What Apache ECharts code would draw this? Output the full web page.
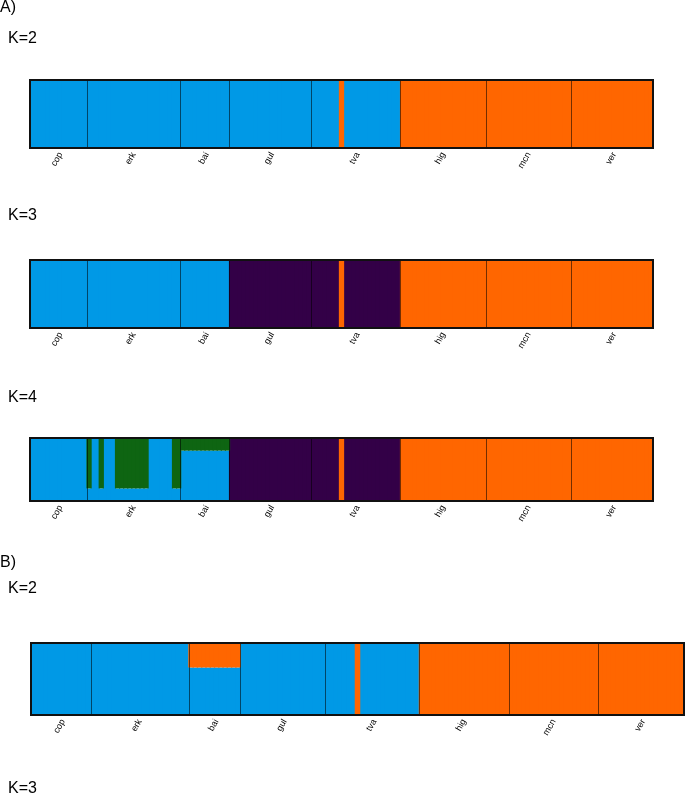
<!DOCTYPE html>
<html>
<head>
<meta charset="utf-8">
<script src="https://cdn.jsdelivr.net/npm/echarts@6/dist/echarts.min.js"></script>
<style>
html,body{margin:0;padding:0;background:#fff;}
#chart{width:685px;height:795px;}
</style>
</head>
<body>
<div id="chart"></div>
<script>
// ---- data ----
const populations = ['cop','erk','bai','gul','tva','hig','mcn','ver'];
const popSizes = [14,23,12,20,22,21,21,20];

// A) K=2
const A_K2_blue = [
  1,1,1,1,1,1,1,1,1,1, 1,1,1,1,                          // cop
  1,1,1,1,1,1,1,1,1,1, 1,1,1,1,1,1,1,1,1,1, 1,1,1,       // erk
  1,1,1,1,1,1,1,1,1,1, 1,1,                              // bai
  1,1,1,1,1,1,1,1,1,1, 1,1,1,1,1,1,1,1,1,1,              // gul
  1,1,1,1,1,1,1,0,1,1, 1,1,1,1,1,1,1,1,1,1, 1,1,         // tva
  0,0,0,0,0,0,0,0,0,0, 0,0,0,0,0,0,0,0,0,0, 0,           // hig
  0,0,0,0,0,0,0,0,0,0, 0,0,0,0,0,0,0,0,0,0, 0,           // mcn
  0,0,0,0,0,0,0,0,0,0, 0,0,0,0,0,0,0,0,0,0               // ver
];
const A_K2_orange = [
  0,0,0,0,0,0,0,0,0,0, 0,0,0,0,
  0,0,0,0,0,0,0,0,0,0, 0,0,0,0,0,0,0,0,0,0, 0,0,0,
  0,0,0,0,0,0,0,0,0,0, 0,0,
  0,0,0,0,0,0,0,0,0,0, 0,0,0,0,0,0,0,0,0,0,
  0,0,0,0,0,0,0,1,0,0, 0,0,0,0,0,0,0,0,0,0, 0,0,
  1,1,1,1,1,1,1,1,1,1, 1,1,1,1,1,1,1,1,1,1, 1,
  1,1,1,1,1,1,1,1,1,1, 1,1,1,1,1,1,1,1,1,1, 1,
  1,1,1,1,1,1,1,1,1,1, 1,1,1,1,1,1,1,1,1,1
];

// A) K=3
const A_K3_blue = [
  1,1,1,1,1,1,1,1,1,1, 1,1,1,1,
  1,1,1,1,1,1,1,1,1,1, 1,1,1,1,1,1,1,1,1,1, 1,1,1,
  1,1,1,1,1,1,1,1,1,1, 1,1,
  0,0,0,0,0,0,0,0,0,0, 0,0,0,0,0,0,0,0,0,0,
  0,0,0,0,0,0,0,0,0,0, 0,0,0,0,0,0,0,0,0,0, 0,0,
  0,0,0,0,0,0,0,0,0,0, 0,0,0,0,0,0,0,0,0,0, 0,
  0,0,0,0,0,0,0,0,0,0, 0,0,0,0,0,0,0,0,0,0, 0,
  0,0,0,0,0,0,0,0,0,0, 0,0,0,0,0,0,0,0,0,0
];
const A_K3_purple = [
  0,0,0,0,0,0,0,0,0,0, 0,0,0,0,
  0,0,0,0,0,0,0,0,0,0, 0,0,0,0,0,0,0,0,0,0, 0,0,0,
  0,0,0,0,0,0,0,0,0,0, 0,0,
  1,1,1,1,1,1,1,1,1,1, 1,1,1,1,1,1,1,1,1,1,
  1,1,1,1,1,1,1,0,1,1, 1,1,1,1,1,1,1,1,1,1, 1,1,
  0,0,0,0,0,0,0,0,0,0, 0,0,0,0,0,0,0,0,0,0, 0,
  0,0,0,0,0,0,0,0,0,0, 0,0,0,0,0,0,0,0,0,0, 0,
  0,0,0,0,0,0,0,0,0,0, 0,0,0,0,0,0,0,0,0,0
];
const A_K3_orange = A_K2_orange;

// A) K=4
const A_K4_blue = [
  1,1,1,1,1,1,1,1,1,1, 1,1,1,1,
  0.2,1,1,0.2,1,1,1,0.2,0.2,0.2, 0.2,0.2,0.2,0.2,0.2,1,1,1,1,1, 1,0.2,0.2,
  0.8,0.8,0.8,0.8,0.8,0.8,0.8,0.8,0.8,0.8, 0.8,0.8,
  0,0,0,0,0,0,0,0,0,0, 0,0,0,0,0,0,0,0,0,0,
  0,0,0,0,0,0,0,0,0,0, 0,0,0,0,0,0,0,0,0,0, 0,0,
  0,0,0,0,0,0,0,0,0,0, 0,0,0,0,0,0,0,0,0,0, 0,
  0,0,0,0,0,0,0,0,0,0, 0,0,0,0,0,0,0,0,0,0, 0,
  0,0,0,0,0,0,0,0,0,0, 0,0,0,0,0,0,0,0,0,0
];
const A_K4_green = [
  0,0,0,0,0,0,0,0,0,0, 0,0,0,0,
  0.8,0,0,0.8,0,0,0,0.8,0.8,0.8, 0.8,0.8,0.8,0.8,0.8,0,0,0,0,0, 0,0.8,0.8,
  0.2,0.2,0.2,0.2,0.2,0.2,0.2,0.2,0.2,0.2, 0.2,0.2,
  0,0,0,0,0,0,0,0,0,0, 0,0,0,0,0,0,0,0,0,0,
  0,0,0,0,0,0,0,0,0,0, 0,0,0,0,0,0,0,0,0,0, 0,0,
  0,0,0,0,0,0,0,0,0,0, 0,0,0,0,0,0,0,0,0,0, 0,
  0,0,0,0,0,0,0,0,0,0, 0,0,0,0,0,0,0,0,0,0, 0,
  0,0,0,0,0,0,0,0,0,0, 0,0,0,0,0,0,0,0,0,0
];
const A_K4_purple = A_K3_purple;
const A_K4_orange = A_K2_orange;

// B) K=2
const B_K2_blue = [
  1,1,1,1,1,1,1,1,1,1, 1,1,1,1,
  1,1,1,1,1,1,1,1,1,1, 1,1,1,1,1,1,1,1,1,1, 1,1,1,
  0.66,0.66,0.66,0.66,0.66,0.66,0.66,0.66,0.66,0.66, 0.66,0.66,
  1,1,1,1,1,1,1,1,1,1, 1,1,1,1,1,1,1,1,1,1,
  1,1,1,1,1,1,1,0,1,1, 1,1,1,1,1,1,1,1,1,1, 1,1,
  0,0,0,0,0,0,0,0,0,0, 0,0,0,0,0,0,0,0,0,0, 0,
  0,0,0,0,0,0,0,0,0,0, 0,0,0,0,0,0,0,0,0,0, 0,
  0,0,0,0,0,0,0,0,0,0, 0,0,0,0,0,0,0,0,0,0
];
const B_K2_orange = [
  0,0,0,0,0,0,0,0,0,0, 0,0,0,0,
  0,0,0,0,0,0,0,0,0,0, 0,0,0,0,0,0,0,0,0,0, 0,0,0,
  0.34,0.34,0.34,0.34,0.34,0.34,0.34,0.34,0.34,0.34, 0.34,0.34,
  0,0,0,0,0,0,0,0,0,0, 0,0,0,0,0,0,0,0,0,0,
  0,0,0,0,0,0,0,1,0,0, 0,0,0,0,0,0,0,0,0,0, 0,0,
  1,1,1,1,1,1,1,1,1,1, 1,1,1,1,1,1,1,1,1,1, 1,
  1,1,1,1,1,1,1,1,1,1, 1,1,1,1,1,1,1,1,1,1, 1,
  1,1,1,1,1,1,1,1,1,1, 1,1,1,1,1,1,1,1,1,1
];

// ---- build ----
const COLORS = {blue:'#0099E6', purple:'#330047', green:'#0E6512', orange:'#FF6600'};

const individuals = [];
const popStart = [];
const labelIdx = {};
let c = 0;
populations.forEach((p, i) => {
  popStart.push(c);
  labelIdx[c + Math.floor(popSizes[i] / 2)] = p;
  for (let j = 0; j < popSizes[i]; j++) individuals.push(p + (j + 1));
  c += popSizes[i];
});
const boundarySet = new Set(popStart.slice(1));

const panels = [
  {grid:{left:30, top:80, width:623, height:68},
   series:[['blue',A_K2_blue],['orange',A_K2_orange]]},
  {grid:{left:30, top:260, width:623, height:68},
   series:[['blue',A_K3_blue],['purple',A_K3_purple],['orange',A_K3_orange]]},
  {grid:{left:30, top:438, width:623, height:63},
   series:[['blue',A_K4_blue],['purple',A_K4_purple],['green',A_K4_green],['orange',A_K4_orange]]},
  {grid:{left:31, top:643, width:653, height:72},
   series:[['blue',B_K2_blue],['orange',B_K2_orange]]}
];

const option = {
  animation:false,
  backgroundColor:'#fff',
  grid:[], xAxis:[], yAxis:[], series:[],
  graphic:[]
};

panels.forEach((pn, gi) => {
  option.grid.push(Object.assign({show:true, borderColor:'#111', borderWidth:2,
    backgroundColor:'transparent', z:10, containLabel:false}, pn.grid));
  option.xAxis.push({
    type:'category', gridIndex:gi, data:individuals, boundaryGap:true, z:5,
    axisLine:{show:false}, axisTick:{show:false},
    axisLabel:{show:true, interval:(i)=> labelIdx[i] !== undefined,
      formatter:(v, i)=> labelIdx[i] || '',
      rotate:60, fontSize:9, color:'#000', margin:5,
      fontFamily:'"Liberation Sans", Arial, sans-serif'},
    splitLine:{show:true, interval:(i)=> boundarySet.has(i),
      lineStyle:{color:'rgba(0,0,0,0.55)', width:1}}
  });
  option.yAxis.push({type:'value', gridIndex:gi, min:0, max:1, show:false});
  pn.series.forEach(([cl, data]) => {
    option.series.push({
      type:'bar', xAxisIndex:gi, yAxisIndex:gi, stack:'s'+gi, data:data,
      barCategoryGap:'-30%',
      itemStyle:{color:COLORS[cl], borderWidth:0},
      emphasis:{disabled:true}, silent:true
    });
  });
});

const FONT = '16px "Liberation Sans", Arial, sans-serif';
const texts = [
  ['A)', 0, 8], ['K=2', 8, 39], ['K=3', 8, 216], ['K=4', 8, 398],
  ['B)', 0, 563], ['K=2', 8, 589], ['K=3', 8, 789]
];
texts.forEach(([t, x, y]) => {
  option.graphic.push({type:'text', x:x, y:y, style:{text:t, font:FONT, fill:'#000',
    textAlign:'left', textVerticalAlign:'middle'}});
});

const chart = echarts.init(document.getElementById('chart'), null, {renderer:'canvas'});
chart.setOption(option);
</script>
</body>
</html>
